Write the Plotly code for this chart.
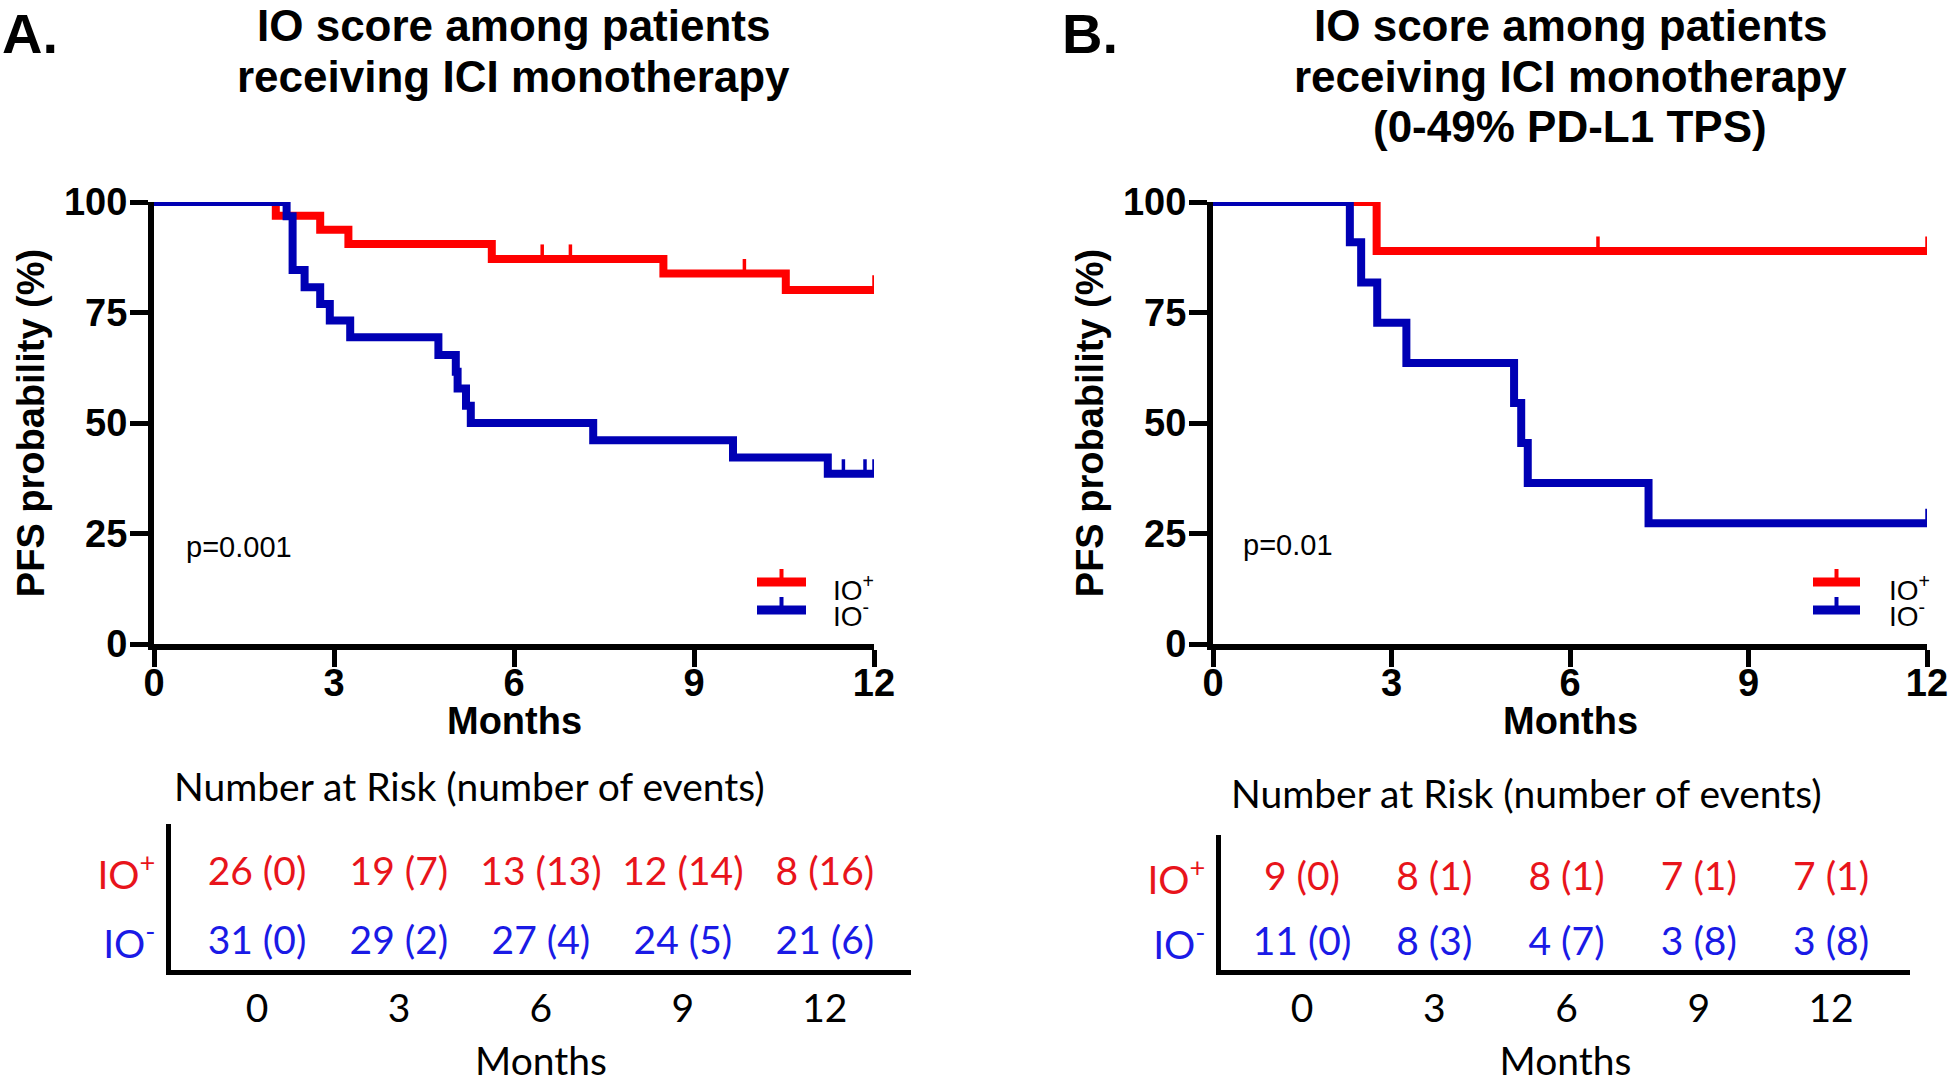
import plotly.graph_objects as go

W, H = 1951, 1083

# ---------------- data ----------------
# Panel A: Kaplan-Meier steps (time in months, PFS %)
a_pos_t = [0, 2.03, 2.77, 3.24, 5.63, 8.49, 10.53, 12.0]
a_pos_s = [100, 96.9, 93.7, 90.5, 87.1, 83.8, 80.1, 80.1]
a_pos_cens = [6.47, 6.94, 9.84, 12.0]
a_neg_t = [0, 2.21, 2.31, 2.51, 2.77, 2.93, 3.27, 4.74, 5.03, 5.06, 5.20, 5.28, 7.32, 9.65, 11.23, 12.0]
a_neg_s = [100, 96.8, 84.6, 80.7, 76.9, 73.2, 69.4, 65.4, 61.6, 57.8, 53.9, 50.0, 46.1, 42.2, 38.5, 38.5]
a_neg_cens = [11.49, 11.85, 12.0]

# Panel B
b_pos_t = [0, 2.75, 12.0]
b_pos_s = [100, 88.9, 88.9]
b_pos_cens = [6.47, 12.0]
b_neg_t = [0, 2.30, 2.49, 2.76, 3.25, 5.06, 5.18, 5.29, 7.32, 12.0]
b_neg_s = [100, 90.9, 81.8, 72.7, 63.6, 54.5, 45.5, 36.4, 27.3, 27.3]
b_neg_cens = [12.0]

# Number at risk tables
risk_months = [0, 3, 6, 9, 12]
a_risk_pos = [26, 19, 13, 12, 8]
a_events_pos = [0, 7, 13, 14, 16]
a_risk_neg = [31, 29, 27, 24, 21]
a_events_neg = [0, 2, 4, 5, 6]
b_risk_pos = [9, 8, 8, 7, 7]
b_events_pos = [0, 1, 1, 1, 1]
b_risk_neg = [11, 8, 4, 3, 3]
b_events_neg = [0, 3, 7, 8, 8]

p_values = ["p=0.001", "p=0.01"]
group_labels = ["IO<sup>+</sup>", "IO<sup>-</sup>"]
title_a = ["IO score among patients", "receiving ICI monotherapy"]
title_b = ["IO score among patients", "receiving ICI monotherapy", "(0-49% PD-L1 TPS)"]

# ---------------- style ----------------
RED = "#ff0000"
BLUE = "#0000b4"
T_RED = "#e8141b"
T_BLUE = "#1a1ae6"
AX_FONT = "Liberation Sans, Arial, sans-serif"
TB_FONT = "Lato, sans-serif"
LW = 8
TICK_H = 3.3
TB_SIZE = 39


def px(x):
    return x / W


def py(y):
    return 1 - y / H


def surv_at(ts, ss, t):
    v = ss[0]
    for ti, si in zip(ts, ss):
        if ti <= t:
            v = si
    return v


def censor_xy(ts, ss, cens):
    xs, ys = [], []
    for c in cens:
        s = surv_at(ts, ss, c)
        xs += [c, c, None]
        ys += [s, s + TICK_H, None]
    return xs, ys


fig = go.Figure()

panels = [
    ("x", "y", a_pos_t, a_pos_s, a_pos_cens, a_neg_t, a_neg_s, a_neg_cens),
    ("x2", "y2", b_pos_t, b_pos_s, b_pos_cens, b_neg_t, b_neg_s, b_neg_cens),
]
for xa, ya, pt, ps, pc, nt, ns, nc in panels:
    for ts, ss, cs, col, name in [(pt, ps, pc, RED, "IO+"), (nt, ns, nc, BLUE, "IO-")]:
        fig.add_trace(go.Scatter(x=ts, y=ss, mode="lines", line=dict(color=col, width=LW, shape="hv"),
                                 xaxis=xa, yaxis=ya, cliponaxis=False, showlegend=False, name=name))
        cx, cy = censor_xy(ts, ss, cs)
        fig.add_trace(go.Scatter(x=cx, y=cy, mode="lines", line=dict(color=col, width=3.5),
                                 xaxis=xa, yaxis=ya, cliponaxis=False, showlegend=False, hoverinfo="skip"))

# risk tables as text traces
tables = [
    ("x3", "y3", a_risk_pos, a_events_pos, a_risk_neg, a_events_neg),
    ("x4", "y4", b_risk_pos, b_events_pos, b_risk_neg, b_events_neg),
]
for xa, ya, rp, ep, rn, en in tables:
    fig.add_trace(go.Scatter(x=risk_months, y=[2] * len(risk_months), mode="text",
                             text=[f"{r} ({e})" for r, e in zip(rp, ep)],
                             textfont=dict(family=TB_FONT, size=TB_SIZE, color=T_RED),
                             xaxis=xa, yaxis=ya, cliponaxis=False, showlegend=False))
    fig.add_trace(go.Scatter(x=risk_months, y=[1] * len(risk_months), mode="text",
                             text=[f"{r} ({e})" for r, e in zip(rn, en)],
                             textfont=dict(family=TB_FONT, size=TB_SIZE, color=T_BLUE),
                             xaxis=xa, yaxis=ya, cliponaxis=False, showlegend=False))

bold38 = dict(family=AX_FONT, size=38, color="black", weight="bold")
main_x = dict(range=[0, 12], tickvals=[0, 3, 6, 9, 12], showline=True, linewidth=6, linecolor="black",
              ticks="outside", ticklen=17, tickwidth=5, tickcolor="black", showgrid=False, zeroline=False,
              automargin=False, ticklabelstandoff=-17, tickfont=bold38)
main_y = dict(range=[0, 100], tickvals=[0, 25, 50, 75, 100], showline=True, linewidth=6, linecolor="black",
              ticks="outside", ticklen=18, tickwidth=5, tickcolor="black", showgrid=False, zeroline=False,
              automargin=False, ticklabelstandoff=-5, tickfont=bold38,
              title=dict(text="PFS probability (%)", font=bold38, standoff=10))

YD = [py(644), py(202)]
fig.update_layout(
    xaxis=dict(main_x, domain=[px(154), px(874)], anchor="y"),
    yaxis=dict(main_y, domain=YD, anchor="x"),
    xaxis2=dict(main_x, domain=[px(1213), px(1927)], anchor="y2"),
    yaxis2=dict(main_y, domain=YD, anchor="x2"),
)

tick_y_text = ['<span style="color:%s">%s</span>' % (T_BLUE, group_labels[1]),
               '<span style="color:%s">%s</span>' % (T_RED, group_labels[0])]
tab_x = dict(tickvals=risk_months, showline=True, linewidth=4.5, linecolor="black",
             ticks="", showgrid=False, zeroline=False, ticklabelstandoff=0, automargin=False,
             tickfont=dict(family=TB_FONT, size=TB_SIZE, color="black"),
             title=dict(text="Months", font=dict(family=TB_FONT, size=TB_SIZE, color="black"), standoff=47))
tab_y = dict(tickvals=[1, 2], ticktext=tick_y_text, showline=True, linewidth=4.5, linecolor="black",
             ticks="", showgrid=False, zeroline=False, ticklabelstandoff=3, automargin=False,
             tickfont=dict(family=TB_FONT, size=TB_SIZE))
fig.update_layout(
    xaxis3=dict(tab_x, domain=[px(171), px(911)], anchor="y3", range=[-1.817, 13.82]),
    yaxis3=dict(tab_y, domain=[py(970), py(824)], range=[0.623, 2.74], anchor="x3"),
    xaxis4=dict(tab_x, domain=[px(1221), px(1910)], anchor="y4", range=[-1.838, 13.79]),
    yaxis4=dict(tab_y, domain=[py(970), py(835)], range=[0.615, 2.69], anchor="x4"),
)

ann = []
title_font = dict(family=AX_FONT, size=44, color="black", weight="bold")
for i, line in enumerate(title_a):
    ann.append(dict(text=line, x=px(513), y=py(25 + 52 * i), xref="paper", yref="paper", xanchor="center",
                    yanchor="middle", showarrow=False, font=title_font))
for i, line in enumerate(title_b):
    ann.append(dict(text=line, x=px(1570), y=py(25 + 51 * i), xref="paper", yref="paper", xanchor="center",
                    yanchor="middle", showarrow=False, font=title_font))
ann.append(dict(text="A.", x=0, y=1, xref="paper", yref="paper", xanchor="left", yanchor="top",
                showarrow=False, font=dict(family=AX_FONT, size=56, color="black", weight="bold")))
ann.append(dict(text="B.", x=px(1060), y=1, xref="paper", yref="paper", xanchor="left", yanchor="top",
                showarrow=False, font=dict(family=AX_FONT, size=56, color="black", weight="bold")))
# x-axis titles of the KM plots
for xr in ["x domain", "x2 domain"]:
    ann.append(dict(text="Months", x=0.5, y=py(721), xref=xr, yref="paper", xanchor="center", yanchor="middle",
                    showarrow=False, font=bold38))
# p-values
ann.append(dict(text=p_values[0], x=px(184), y=py(547), xref="paper", yref="paper", xanchor="left",
                yanchor="middle", showarrow=False, font=dict(family=AX_FONT, size=29, color="black")))
ann.append(dict(text=p_values[1], x=px(1241), y=py(545), xref="paper", yref="paper", xanchor="left",
                yanchor="middle", showarrow=False, font=dict(family=AX_FONT, size=29, color="black")))
# risk table headers
ann.append(dict(text="Number at Risk (number of events)", x=px(469), y=py(786), xref="paper", yref="paper",
                xanchor="center", yanchor="middle", showarrow=False,
                font=dict(family=TB_FONT, size=39, color="black")))
ann.append(dict(text="Number at Risk (number of events)", x=px(1526), y=py(793), xref="paper", yref="paper",
                xanchor="center", yanchor="middle", showarrow=False,
                font=dict(family=TB_FONT, size=39, color="black")))

# legends (manual)
shapes = []
for lx0, lx1, tx in [(757, 806, 831), (1813, 1860, 1887)]:
    for ly, col, lab, ty in [(582, RED, group_labels[0], 588), (610, BLUE, group_labels[1], 614)]:
        shapes.append(dict(type="line", xref="paper", yref="paper", x0=px(lx0), x1=px(lx1), y0=py(ly), y1=py(ly),
                           line=dict(color=col, width=9)))
        mx = (lx0 + lx1) / 2
        shapes.append(dict(type="line", xref="paper", yref="paper", x0=px(mx), x1=px(mx), y0=py(ly), y1=py(ly - 13),
                           line=dict(color=col, width=4)))
        ann.append(dict(text=lab, x=px(tx), y=py(ty), xref="paper", yref="paper", xanchor="left",
                        yanchor="middle", showarrow=False, font=dict(family=AX_FONT, size=28, color="black")))

fig.update_layout(annotations=ann, shapes=shapes, width=W, height=H, margin=dict(l=0, r=0, t=0, b=0),
                  paper_bgcolor="white", plot_bgcolor="white", showlegend=False)

fig.write_html("out.html", config={"displayModeBar": False},
               post_script="document.body.style.margin='0';document.body.style.overflow='hidden';")
